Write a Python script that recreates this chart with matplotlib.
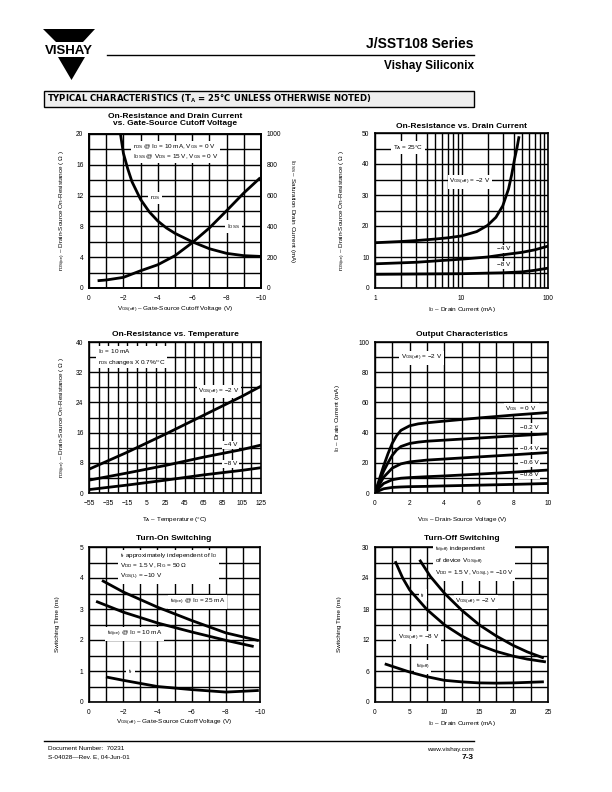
import matplotlib.pyplot as plt
from matplotlib.patches import Polygon, Rectangle
from matplotlib.ticker import NullFormatter

plt.rcParams['font.family'] = ['Liberation Sans', 'DejaVu Sans']
plt.rcParams['mathtext.fontset'] = 'custom'
plt.rcParams['mathtext.rm'] = 'Liberation Sans'
plt.rcParams['mathtext.it'] = 'Liberation Sans:italic'
plt.rcParams['mathtext.bf'] = 'Liberation Sans:bold'

# --- data ---
# 1: rDS and IDSS vs VGS(off)
rds_vgs = [-1.83, -2.0, -2.25, -2.5, -3.0, -3.5, -4.0, -4.5, -5.0, -6.0, -7.0, -8.0, -9.0, -10.0]
rds_val = [20.0, 17.5, 15.5, 13.8, 11.5, 9.9, 8.7, 7.8, 7.1, 6.0, 5.1, 4.5, 4.2, 4.1]
idss_vgs = [-0.58, -1.0, -2.0, -3.0, -4.0, -5.0, -6.0, -7.0, -8.0, -9.0, -9.9]
idss_val = [48, 52, 69, 112, 151, 210, 294, 390, 502, 617, 710]

# 2: rDS vs drain current (log)
id_m2 = [1, 2, 3, 5, 7, 10, 15, 20, 25, 30, 35, 38, 41, 44, 46]
rds_m2 = [14.6, 15.0, 15.3, 15.8, 16.2, 16.8, 18.2, 20.2, 22.8, 26.5, 32.0, 36.5, 41.5, 45.5, 48.5]
id_m4 = [1, 3, 10, 20, 30, 50, 70, 100]
rds_m4 = [7.8, 8.3, 9.3, 10.0, 10.7, 11.5, 12.3, 13.5]
id_m8 = [1, 3, 10, 20, 30, 50, 70, 100]
rds_m8 = [4.4, 4.5, 4.6, 4.8, 4.9, 5.2, 5.7, 6.4]

# 3: rDS vs temperature
temp = [-55, -15, 25, 65, 105, 125]
rt_m2 = [6.3, 10.8, 15.6, 20.6, 25.6, 28.3]
rt_m4 = [3.4, 5.3, 7.3, 9.5, 11.5, 12.7]
rt_m8 = [0.9, 2.1, 3.4, 4.8, 6.0, 6.7]

# 4: output characteristics
vds_a = [0, 0.25, 0.5, 0.75, 1.0, 1.25, 1.5, 2, 2.5, 3, 4, 6, 8, 10]
id_v0 = [0, 9, 18, 26, 33, 38, 41.5, 44.5, 45.8, 46.5, 47.6, 49.7, 51.6, 53.3]
id_v02 = [0, 7.5, 14.5, 20, 25, 28.5, 30.8, 32.8, 33.7, 34.3, 35.0, 36.4, 37.8, 39.2]
vds_b = [0, 0.25, 0.5, 1.0, 1.5, 2, 3, 4, 6, 8, 10]
id_v04 = [0, 5.5, 10.5, 16.5, 19.3, 20.6, 21.8, 22.5, 23.9, 25.3, 26.8]
id_v06 = [0, 3.5, 6.3, 8.8, 9.8, 10.2, 10.8, 11.3, 12.5, 13.8, 15.2]
id_v08 = [0, 1.6, 2.8, 3.7, 4.0, 4.2, 4.4, 4.7, 5.2, 5.7, 6.3]

# 5: turn-on switching
ton_x25 = [-0.83, -2.0, -4.0, -6.0, -8.0, -9.85]
ton_25 = [3.9, 3.55, 3.06, 2.63, 2.23, 1.99]
ton_x10 = [-0.49, -2.0, -4.0, -6.0, -8.0, -9.55]
ton_10 = [3.23, 2.9, 2.55, 2.26, 1.99, 1.8]
tr_x = [-1.07, -2.0, -4.0, -6.0, -8.0, -9.85]
tr_val = [0.8, 0.7, 0.5, 0.4, 0.32, 0.37]

# 6: turn-off switching
toff_x2 = [6.55, 8.0, 10.07, 12.5, 15.1, 17.5, 19.9, 22.0, 24.2]
toff_2 = [27.3, 24.3, 21.0, 17.8, 14.9, 12.8, 11.0, 9.7, 8.6]
tf_x = [3.0, 4.0, 5.0, 7.5, 10.07, 12.5, 15.1, 17.5, 19.9, 22.0, 24.5]
tf_val = [27.0, 24.0, 21.7, 17.9, 14.9, 12.8, 11.0, 9.8, 8.9, 8.3, 7.8]
tdoff_x = [1.6, 5.0, 7.5, 10.0, 12.5, 15.0, 17.5, 20.0, 24.2]
tdoff = [7.3, 5.8, 4.9, 4.2, 3.9, 3.7, 3.65, 3.7, 3.9]

W, H = 612, 792
fig = plt.figure(figsize=(W / 100, H / 100), dpi=100)


def fx(x):
    return x / W


def fy(y):
    return 1 - y / H


def box(l, r, t, b):
    return [fx(l), fy(b), (r - l) / W, (b - t) / H]


def setup(ax, xlim, ylim, xmaj, ymaj, xgrid, ygrid):
    ax.set_xlim(*xlim)
    ax.set_ylim(*ylim)
    ax.set_xticks(xmaj)
    ax.set_yticks(ymaj)
    ax.set_xticks(xgrid, minor=True)
    ax.set_yticks(ygrid, minor=True)
    ax.set_axisbelow(True)
    ax.grid(which='both', color='black', lw=1.0)
    ax.tick_params(which='both', length=0, labelsize=4.8)
    ax.tick_params(axis='x', pad=5)
    ax.tick_params(axis='y', pad=4)
    for s in ax.spines.values():
        s.set_linewidth(1.2)


def label(ax, x, y, s, ha='center'):
    ax.text(x, y, s, fontsize=4.6, ha=ha, va='center', zorder=3,
            linespacing=1.25,
            bbox=dict(fc='white', ec='none', pad=1.2))


def ftext(x, y, s, **kw):
    fig.text(fx(x), fy(y), s, ha='center', va='center', **kw)


CW = 2.0  # curve width

# ---------------- header ----------------
fig.patches.append(Polygon([(fx(43), fy(29)), (fx(95), fy(29)), (fx(83), fy(42)), (fx(56), fy(42))],
                           closed=True, fc='black', ec='none', transform=fig.transFigure))
fig.patches.append(Polygon([(fx(58), fy(57)), (fx(85), fy(57)), (fx(71.5), fy(80))],
                           closed=True, fc='black', ec='none', transform=fig.transFigure))
ftext(69, 50.5, 'VISHAY', fontsize=9.5, fontweight='bold')
fig.add_artist(plt.Line2D([fx(107), fx(474)], [fy(55), fy(55)], color='black', lw=1.0))
fig.text(fx(474), fy(44), 'J/SST108 Series', ha='right', va='center', fontsize=10, fontweight='bold')
fig.text(fx(474), fy(66), 'Vishay Siliconix', ha='right', va='center', fontsize=8.5, fontweight='bold')
fig.patches.append(Rectangle((fx(44), fy(107)), 430 / W, 16 / H, fc='#eeeeee', ec='black', lw=1.0,
                             transform=fig.transFigure))
fig.text(fx(47), fy(99), r'TYPICAL CHARACTERISTICS (T$_\mathbf{A}$ = 25°C UNLESS OTHERWISE NOTED)',
         ha='left', va='center', fontsize=6.1, fontweight='heavy', family='DejaVu Sans')

# ---------------- plot 1 ----------------
ax1 = fig.add_axes(box(89, 261, 134, 288))
setup(ax1, (0, -10), (0, 20), range(0, -11, -2), range(0, 21, 4), range(0, -11, -1), range(0, 21, 2))
ax1.plot(rds_vgs, rds_val, color='black', lw=CW, zorder=4)
ax1b = ax1.twinx()
ax1b.set_ylim(0, 1000)
ax1b.set_yticks(range(0, 1001, 200))
ax1b.tick_params(length=0, labelsize=4.8, pad=4)
for s in ax1b.spines.values():
    s.set_linewidth(1.2)
ax1b.plot(idss_vgs, idss_val, color='black', lw=CW, zorder=4)
label(ax1, -2.55, 17.7, r'$\mathrm{r_{DS}}$ @ $\mathrm{I_D}$ = 10 mA, $\mathrm{V_{GS}}$ = 0 V' + '\n'
      + r'$\mathrm{I_{DSS}}$ @ $\mathrm{V_{DS}}$ = 15 V, $\mathrm{V_{GS}}$ = 0 V', ha='left')
label(ax1, -3.85, 11.7, r'$\mathrm{r_{DS}}$')
label(ax1, -8.4, 8.0, r'$\mathrm{I_{DSS}}$')
ftext(175, 120, 'On-Resistance and Drain Current\nvs. Gate-Source Cutoff Voltage',
      fontsize=6, fontweight='bold', linespacing=1.05)
ftext(63, 211, r'$\mathrm{r_{DS(on)}}$ – Drain-Source On-Resistance ( Ω )', fontsize=4.6, rotation=90)
ftext(293, 211, r'$\mathrm{I_{DSS}}$ – Saturation Drain Current (mA)', fontsize=4.6, rotation=270)
ftext(175, 310, r'$\mathrm{V_{GS(off)}}$ – Gate-Source Cutoff Voltage (V)', fontsize=4.6)

# ---------------- plot 2 ----------------
ax2 = fig.add_axes(box(375, 548, 133, 288))
ax2.set_xscale('log')
minor_log = [2, 3, 4, 5, 6, 7, 8, 9, 20, 30, 40, 50, 60, 70, 80, 90]
setup(ax2, (1, 100), (0, 50), [1, 10, 100], range(0, 51, 10), minor_log, range(0, 51, 5))
ax2.set_xticklabels(['1', '10', '100'])
ax2.xaxis.set_minor_formatter(NullFormatter())
ax2.plot(id_m2, rds_m2, color='black', lw=CW, zorder=4)
ax2.plot(id_m4, rds_m4, color='black', lw=CW, zorder=4)
ax2.plot(id_m8, rds_m8, color='black', lw=CW, zorder=4)
label(ax2, 2.4, 45.3, r'$\mathrm{T_A}$ = 25°C')
label(ax2, 12.5, 34.2, r'$\mathrm{V_{GS(off)}}$ = −2 V')
label(ax2, 31, 12.6, '−4 V')
label(ax2, 31, 7.5, '−8 V')
ftext(462, 126, 'On-Resistance vs. Drain Current', fontsize=6, fontweight='bold')
ftext(343, 211, r'$\mathrm{r_{DS(on)}}$ – Drain-Source On-Resistance ( Ω )', fontsize=4.6, rotation=90)
ftext(462, 310, r'$\mathrm{I_D}$ – Drain Current (mA)', fontsize=4.6)

# ---------------- plot 3 ----------------
ax3 = fig.add_axes(box(89, 261, 342, 493))
setup(ax3, (-55, 125), (0, 40), range(-55, 126, 20), range(0, 41, 8), range(-55, 126, 10), range(0, 41, 4))
ax3.plot(temp, rt_m2, color='black', lw=CW, zorder=4)
ax3.plot(temp, rt_m4, color='black', lw=CW, zorder=4)
ax3.plot(temp, rt_m8, color='black', lw=CW, zorder=4)
label(ax3, -46, 36, r'$\mathrm{I_D}$ = 10 mA' + '\n' + r'$\mathrm{r_{DS}}$ changes X 0.7%/°C', ha='left')
label(ax3, 81, 26.9, r'$\mathrm{V_{GS(off)}}$ = −2 V')
label(ax3, 93, 12.8, '−4 V')
label(ax3, 93, 7.7, '−8 V')
ftext(175, 334, 'On-Resistance vs. Temperature', fontsize=6, fontweight='bold')
ftext(63, 418, r'$\mathrm{r_{DS(on)}}$ – Drain-Source On-Resistance ( Ω )', fontsize=4.6, rotation=90)
ftext(175, 520, r'$\mathrm{T_A}$ – Temperature (°C)', fontsize=4.6)

# ---------------- plot 4 ----------------
ax4 = fig.add_axes(box(375, 548, 342, 493))
setup(ax4, (0, 10), (0, 100), range(0, 11, 2), range(0, 101, 20), range(0, 11, 1), range(0, 101, 10))
ax4.plot(vds_a, id_v0, color='black', lw=CW, zorder=4)
ax4.plot(vds_a, id_v02, color='black', lw=CW, zorder=4)
ax4.plot(vds_b, id_v04, color='black', lw=CW, zorder=4)
ax4.plot(vds_b, id_v06, color='black', lw=CW, zorder=4)
ax4.plot(vds_b, id_v08, color='black', lw=CW, zorder=4)
label(ax4, 2.7, 89.4, r'$\mathrm{V_{GS(off)}}$ = −2 V')
label(ax4, 8.45, 55.6, r'$\mathrm{V_{GS}}$  = 0 V')
label(ax4, 8.9, 43.5, '−0.2 V')
label(ax4, 8.9, 29.8, '−0.4 V')
label(ax4, 8.9, 19.9, '−0.6 V')
label(ax4, 8.9, 12.1, '−0.8 V')
ftext(462, 334, 'Output Characteristics', fontsize=6, fontweight='bold')
ftext(338, 418, r'$\mathrm{I_D}$ – Drain Current (mA)', fontsize=4.6, rotation=90)
ftext(462, 520, r'$\mathrm{V_{DS}}$ – Drain-Source Voltage (V)', fontsize=4.6)

# ---------------- plot 5 ----------------
ax5 = fig.add_axes(box(89, 260, 547, 702))
setup(ax5, (0, -10), (0, 5), range(0, -11, -2), range(0, 6, 1), range(0, -11, -1),
      [i * 0.5 for i in range(11)])
ax5.plot(ton_x25, ton_25, color='black', lw=CW, zorder=4)
ax5.plot(ton_x10, ton_10, color='black', lw=CW, zorder=4)
ax5.plot(tr_x, tr_val, color='black', lw=CW, zorder=4)
label(ax5, -1.8, 4.37, r'$\mathrm{t_r}$ approximately independent of $\mathrm{I_D}$' + '\n'
      + r'$\mathrm{V_{DD}}$ = 1.5 V, $\mathrm{R_G}$ = 50 Ω' + '\n'
      + r'$\mathrm{V_{GS(L)}}$ = −10 V', ha='left')
label(ax5, -6.36, 3.23, r'$\mathrm{t_{d(on)}}$ @ $\mathrm{I_D}$ = 25 mA')
label(ax5, -2.67, 2.2, r'$\mathrm{t_{d(on)}}$ @ $\mathrm{I_D}$ = 10 mA')
label(ax5, -2.43, 0.97, r'$\mathrm{t_r}$')
ftext(174, 538, 'Turn-On Switching', fontsize=6, fontweight='bold')
ftext(57, 624, 'Switching Time (ns)', fontsize=4.6, rotation=90)
ftext(174, 723, r'$\mathrm{V_{GS(off)}}$ – Gate-Source Cutoff Voltage (V)', fontsize=4.6)

# ---------------- plot 6 ----------------
ax6 = fig.add_axes(box(375, 548, 547, 702))
setup(ax6, (0, 25), (0, 30), range(0, 26, 5), range(0, 31, 6), [i * 2.5 for i in range(11)], range(0, 31, 3))
ax6.plot(toff_x2, toff_2, color='black', lw=CW, zorder=4)
ax6.plot(tf_x, tf_val, color='black', lw=CW, zorder=4)
ax6.plot(tdoff_x, tdoff, color='black', lw=CW, zorder=4)
label(ax6, 8.6, 27.1, r'$\mathrm{t_{d(off)}}$ independent' + '\n'
      + r'of device $\mathrm{V_{GS(off)}}$' + '\n'
      + r'$\mathrm{V_{DD}}$ = 1.5 V, $\mathrm{V_{GS(L)}}$ = −10 V', ha='left')
label(ax6, 6.9, 20.7, r'$\mathrm{t_f}$')
label(ax6, 14.6, 19.4, r'$\mathrm{V_{GS(off)}}$ = −2 V')
label(ax6, 6.3, 12.5, r'$\mathrm{V_{GS(off)}}$ = −8 V')
label(ax6, 6.9, 6.8, r'$\mathrm{t_{d(off)}}$')
ftext(462, 538, 'Turn-Off Switching', fontsize=6, fontweight='bold')
ftext(339, 624, 'Switching Time (ns)', fontsize=4.6, rotation=90)
ftext(462, 723, r'$\mathrm{I_D}$ – Drain Current (mA)', fontsize=4.6)

# ---------------- footer ----------------
fig.add_artist(plt.Line2D([fx(44), fx(474)], [fy(741), fy(741)], color='black', lw=1.0))
fig.text(fx(48), fy(749), 'Document Number:  70231', ha='left', va='center', fontsize=4.6)
fig.text(fx(48), fy(757), 'S-04028—Rev. E, 04-Jun-01', ha='left', va='center', fontsize=4.6)
fig.text(fx(474), fy(749), 'www.vishay.com', ha='right', va='center', fontsize=4.6)
fig.text(fx(474), fy(757.5), '7-3', ha='right', va='center', fontsize=6, fontweight='bold')

fig.savefig('out.png', dpi=100)
